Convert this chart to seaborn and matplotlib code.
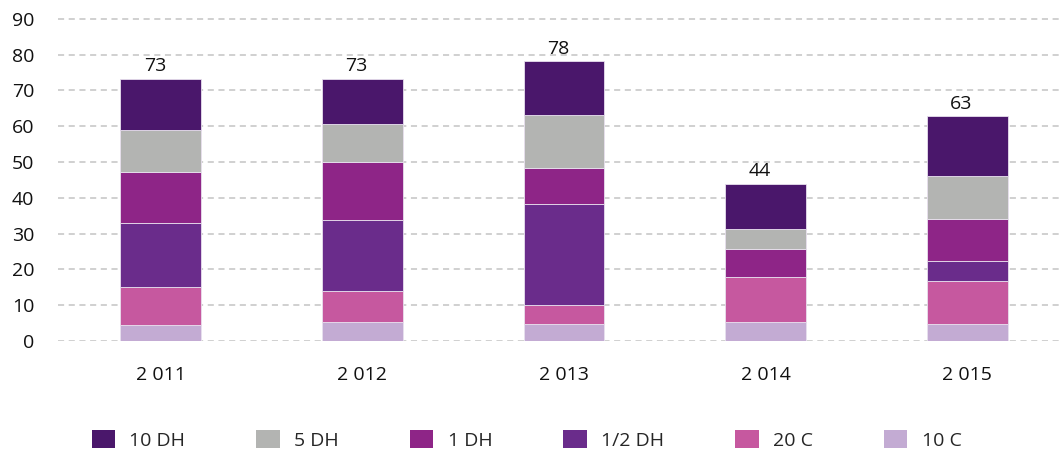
import numpy as np
import pandas as pd
import matplotlib
matplotlib.use("Agg")
import matplotlib.pyplot as plt
import seaborn as sns
from matplotlib.patches import Patch

# data (stack from bottom to top)
years = ["2 011", "2 012", "2 013", "2 014", "2 015"]
c10 = [4.4, 5.3, 4.8, 5.3, 4.8]
c20 = [10.6, 8.7, 5.3, 12.7, 11.9]
dh_half = [17.9, 19.8, 28.1, 0.0, 5.7]
dh1 = [14.4, 16.1, 10.1, 7.8, 11.8]
dh5 = [11.5, 10.6, 14.8, 5.4, 11.8]
dh10 = [14.4, 12.7, 15.0, 12.7, 16.7]

layers = [("10 C", c10, "#c3abd3"),
          ("20 C", c20, "#c6589f"),
          ("1/2 DH", dh_half, "#6a2c8b"),
          ("1 DH", dh1, "#8e2587"),
          ("5 DH", dh5, "#b3b4b2"),
          ("10 DH", dh10, "#4a176b")]

sns.set_style("white")
plt.rcParams['font.family'] = ['Open Sans', 'DejaVu Sans']
fs = 14

fig = plt.figure(figsize=(10.62, 4.54), dpi=100)
ax = fig.add_axes([0.0546, 0.249, 0.9454, 0.7137])

bottom = np.zeros(len(years))
for name, vals, col in layers:
    df = pd.DataFrame({"year": years, "val": vals})
    sns.barplot(data=df, x="year", y="val", order=years, color=col,
                width=0.4, bottom=bottom.copy(), edgecolor="#e8e0ee",
                linewidth=0.6, saturation=1, ax=ax, zorder=3)
    bottom += np.array(vals)

# totals above the stacks
for i, tot in enumerate(bottom):
    ax.text(i - 0.03, tot + 1.0, f"{tot:.0f}", ha="center", va="bottom",
            fontsize=fs, color="#111111")

ax.set_ylim(0, 90.5)
ax.set_xlim(-0.51, 4.47)
ax.set_yticks(range(0, 91, 10))
ax.yaxis.grid(True, color="#c4c4c4", linestyle=(0, (4, 3)), linewidth=1.1, zorder=0)
ax.set_axisbelow(True)
for s in ax.spines.values():
    s.set_visible(False)
ax.set_xlabel("")
ax.set_ylabel("")
ax.tick_params(axis="y", length=0, pad=17, labelsize=fs, labelcolor="#111111")
ax.tick_params(axis="x", length=0, pad=18, labelsize=fs, labelcolor="#111111")

handles = [Patch(facecolor=col, edgecolor="none") for _, _, col in layers[::-1]]
labels = [name for name, _, _ in layers[::-1]]
fig.legend(handles, labels, loc="center", bbox_to_anchor=(0.496, 0.031),
           ncol=6, frameon=False, fontsize=fs, handlelength=1.2,
           handleheight=1.05, handletextpad=0.75, columnspacing=3.65)

fig.savefig("out.png", dpi=100)
